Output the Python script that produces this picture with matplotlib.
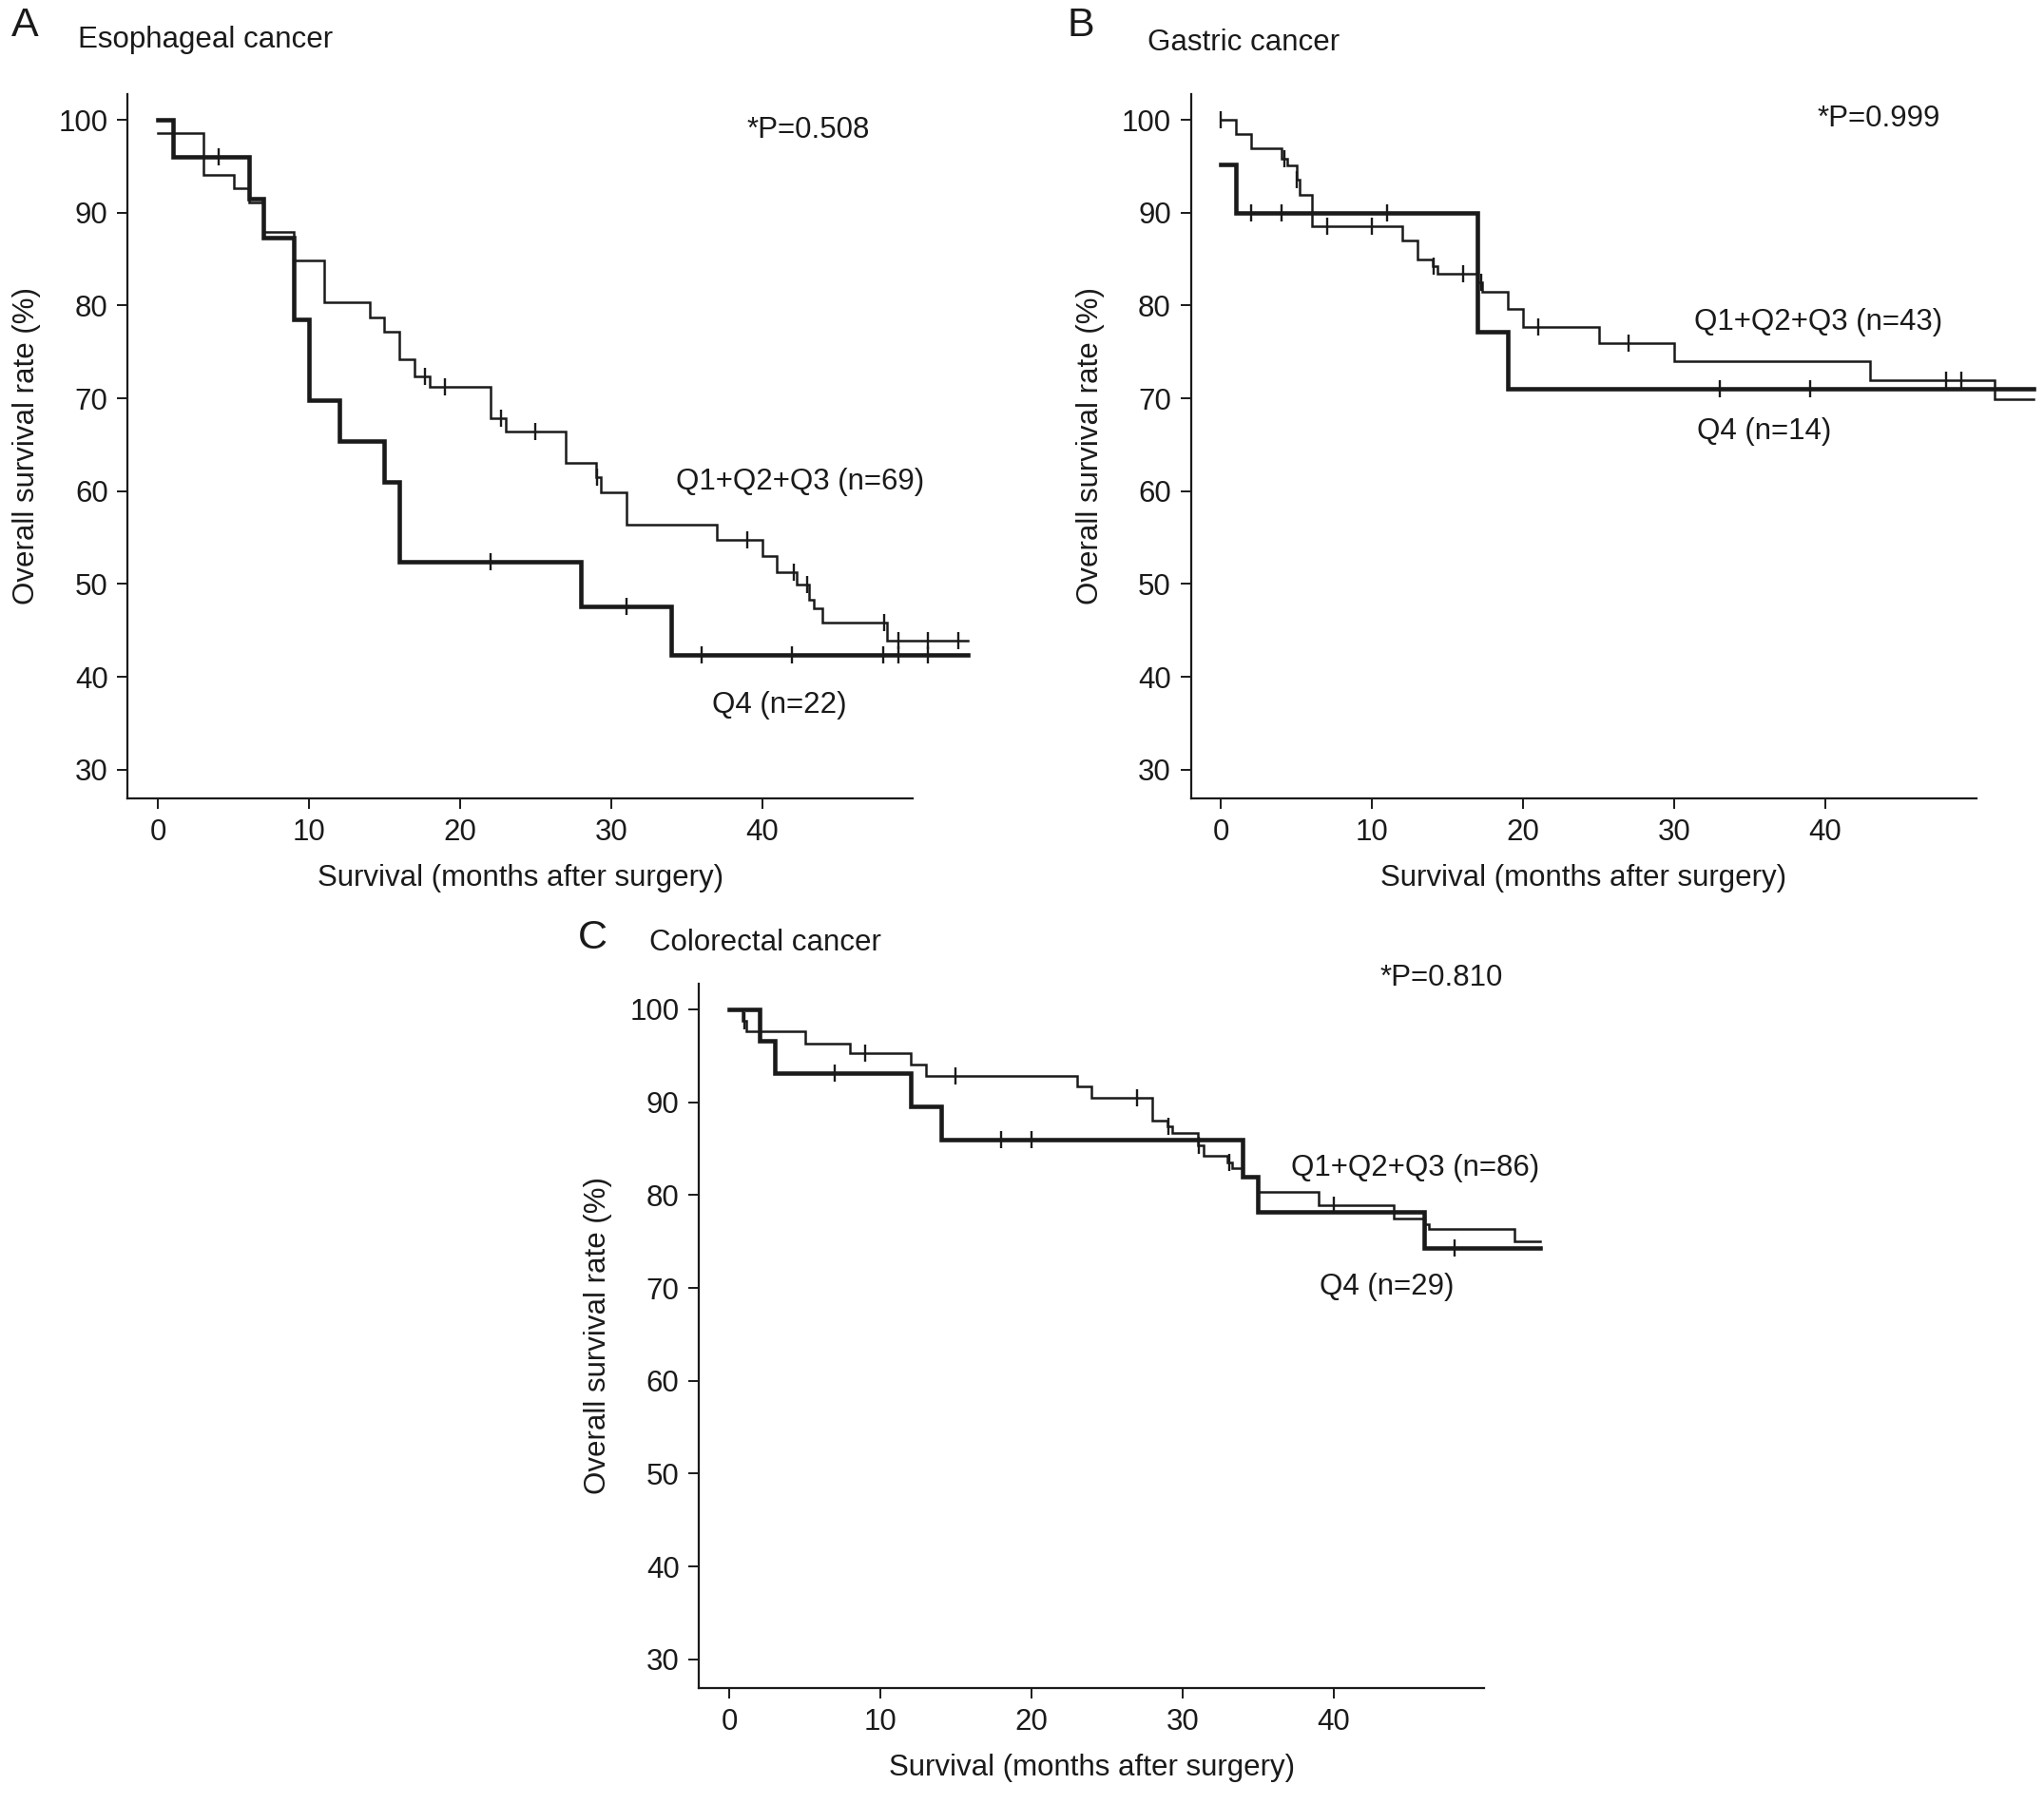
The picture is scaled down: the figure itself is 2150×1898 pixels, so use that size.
import numpy as np
import matplotlib
matplotlib.use('Agg')
import matplotlib.pyplot as plt

plt.rcParams['font.family'] = ['Liberation Sans', 'DejaVu Sans']

# ---------------- data (months, survival %) ----------------
# Panel A: Esophageal cancer
a_q4_t = [0, 1, 6, 7, 9, 10, 12, 15, 16, 28, 34]
a_q4_s = [100, 96.0, 91.5, 87.3, 78.5, 69.8, 65.4, 61.0, 52.4, 47.6, 42.4]
a_q4_end = 53.6
a_q4_cens = [4, 22, 31, 36, 42, 48, 49, 51]

a_q13_t = [0, 3, 5, 6, 7, 9, 11, 14, 15, 16, 17, 18, 22, 23, 27, 29, 29.3, 31,
           37, 40, 41, 42.3, 43.1, 43.4, 44, 48.3]
a_q13_s = [98.6, 94.1, 92.6, 91.1, 87.9, 84.9, 80.3, 78.7, 77.2, 74.2, 72.4, 71.2,
           67.9, 66.4, 63.0, 61.5, 59.9, 56.4, 54.8, 53.0, 51.3, 49.9, 48.3, 47.4,
           45.8, 43.9]
a_q13_end = 53.6
a_q13_cens = [17.7, 19, 22.7, 25, 29.1, 39, 42.1, 43.0, 48.1, 49, 51, 53]

# Panel B: Gastric cancer
b_q4_t = [0, 1, 17, 19]
b_q4_s = [95.2, 90.0, 77.2, 71.0]
b_q4_end = 53.8
b_q4_cens = [2, 4, 11, 33, 39]

b_q13_t = [0, 1, 2, 4, 4.4, 5, 5.2, 6, 12, 13, 14, 14.3, 17, 17.3, 19, 20, 25, 30, 43, 51.2]
b_q13_s = [100, 98.5, 96.9, 95.8, 95.1, 93.6, 91.9, 88.5, 87.0, 85.0, 84.2, 83.4,
           82.5, 81.5, 79.6, 77.7, 75.9, 74.0, 72.0, 69.9]
b_q13_end = 53.8
b_q13_cens = [0, 4.2, 5.0, 7, 10, 14.1, 16, 17.2, 21, 27, 48, 49]

# Panel C: Colorectal cancer
c_q4_t = [0, 2, 3, 12, 14, 34, 35, 46]
c_q4_s = [100, 96.6, 93.1, 89.6, 86.0, 82.0, 78.2, 74.3]
c_q4_end = 53.7
c_q4_cens = [7, 18, 20, 48]

c_q13_t = [0, 0.9, 1.1, 5, 8, 12, 13, 23, 24, 28, 29, 29.3, 31, 31.4, 33, 33.3,
           34, 35, 39, 44, 46, 46.3, 52]
c_q13_s = [100, 98.8, 97.6, 96.3, 95.25, 94.1, 92.85, 91.7, 90.5, 88.0, 87.4, 86.7,
           85.4, 84.2, 83.5, 82.9, 82.0, 80.3, 78.95, 77.5, 76.9, 76.3, 75.0]
c_q13_end = 53.7
c_q13_cens = [1.0, 9, 15, 27, 29.1, 31.1, 33.1, 40, 46.1]

x_ticks = [0, 10, 20, 30, 40]
y_ticks = [30, 40, 50, 60, 70, 80, 90, 100]

ink = '#1a1a1a'
FS = 22.5

W, H = 1567.0, 1385.0  # reference layout units


def fx(x):
    return x / W


def fy(y):
    return 1 - y / H


def km(ax, t, s, t_end, cens, lw):
    tt = list(t) + [t_end]
    ss = list(s) + [s[-1]]
    ax.step(tt, ss, where='post', color=ink, lw=lw, clip_on=False,
            solid_joinstyle='miter', zorder=3)
    idx = np.searchsorted(np.array(t), np.array(cens), side='right') - 1
    cy = np.array(s)[idx]
    ax.plot(cens, cy, ls='none', marker='|', ms=13, mew=1.7, color=ink,
            clip_on=False, zorder=4)


def setup(ax):
    ax.set_xlim(-2, 50)
    ax.set_ylim(26.9, 102.8)
    for sp in ['top', 'right']:
        ax.spines[sp].set_visible(False)
    for sp in ['left', 'bottom']:
        ax.spines[sp].set_linewidth(1.6)
        ax.spines[sp].set_color(ink)
    ax.set_xticks(x_ticks)
    ax.set_yticks(y_ticks)
    ax.tick_params(direction='out', length=8, width=1.4, colors=ink,
                   labelsize=FS, pad=7)
    ax.set_xlabel('Survival (months after surgery)', fontsize=FS, color=ink,
                  labelpad=13)
    ax.set_ylabel('Overall survival rate (%)', fontsize=FS, color=ink,
                  labelpad=13)


fig = plt.figure(figsize=(21.5, 18.98), dpi=100)

axw = (700 - 98) / W
axh = (613 - 72) / H
axA = fig.add_axes([fx(98), fy(613), axw, axh])
axB = fig.add_axes([fx(913), fy(613), axw, axh])
axC = fig.add_axes([fx(536), fy(1296), axw, axh])

for ax in (axA, axB, axC):
    setup(ax)

# Panel A
km(axA, a_q13_t, a_q13_s, a_q13_end, a_q13_cens, 1.8)
km(axA, a_q4_t, a_q4_s, a_q4_end, a_q4_cens, 3.3)
axA.text(39.0, 98.9, '*P=0.508', fontsize=FS, color=ink, va='center', ha='left')
axA.text(34.3, 61.0, 'Q1+Q2+Q3 (n=69)', fontsize=FS, color=ink, va='center', ha='left')
axA.text(36.7, 36.9, 'Q4 (n=22)', fontsize=FS, color=ink, va='center', ha='left')
fig.text(fx(9), fy(20), 'A', fontsize=31, color=ink, va='center', ha='left')
fig.text(fx(60), fy(31), 'Esophageal cancer', fontsize=FS, color=ink, va='center', ha='left')

# Panel B
km(axB, b_q13_t, b_q13_s, b_q13_end, b_q13_cens, 1.8)
km(axB, b_q4_t, b_q4_s, b_q4_end, b_q4_cens, 3.3)
axB.text(39.5, 100.1, '*P=0.999', fontsize=FS, color=ink, va='center', ha='left')
axB.text(31.3, 78.2, 'Q1+Q2+Q3 (n=43)', fontsize=FS, color=ink, va='center', ha='left')
axB.text(31.5, 66.4, 'Q4 (n=14)', fontsize=FS, color=ink, va='center', ha='left')
fig.text(fx(818), fy(20), 'B', fontsize=31, color=ink, va='center', ha='left')
fig.text(fx(880), fy(33), 'Gastric cancer', fontsize=FS, color=ink, va='center', ha='left')

# Panel C
km(axC, c_q13_t, c_q13_s, c_q13_end, c_q13_cens, 1.8)
km(axC, c_q4_t, c_q4_s, c_q4_end, c_q4_cens, 3.3)
axC.text(43.1, 103.4, '*P=0.810', fontsize=FS, color=ink, va='center', ha='left')
axC.text(37.2, 82.9, 'Q1+Q2+Q3 (n=86)', fontsize=FS, color=ink, va='center', ha='left')
axC.text(39.1, 70.1, 'Q4 (n=29)', fontsize=FS, color=ink, va='center', ha='left')
fig.text(fx(443), fy(720), 'C', fontsize=31, color=ink, va='center', ha='left')
fig.text(fx(498), fy(724), 'Colorectal cancer', fontsize=FS, color=ink, va='center', ha='left')

fig.savefig('out.png', dpi=100, facecolor='white')
